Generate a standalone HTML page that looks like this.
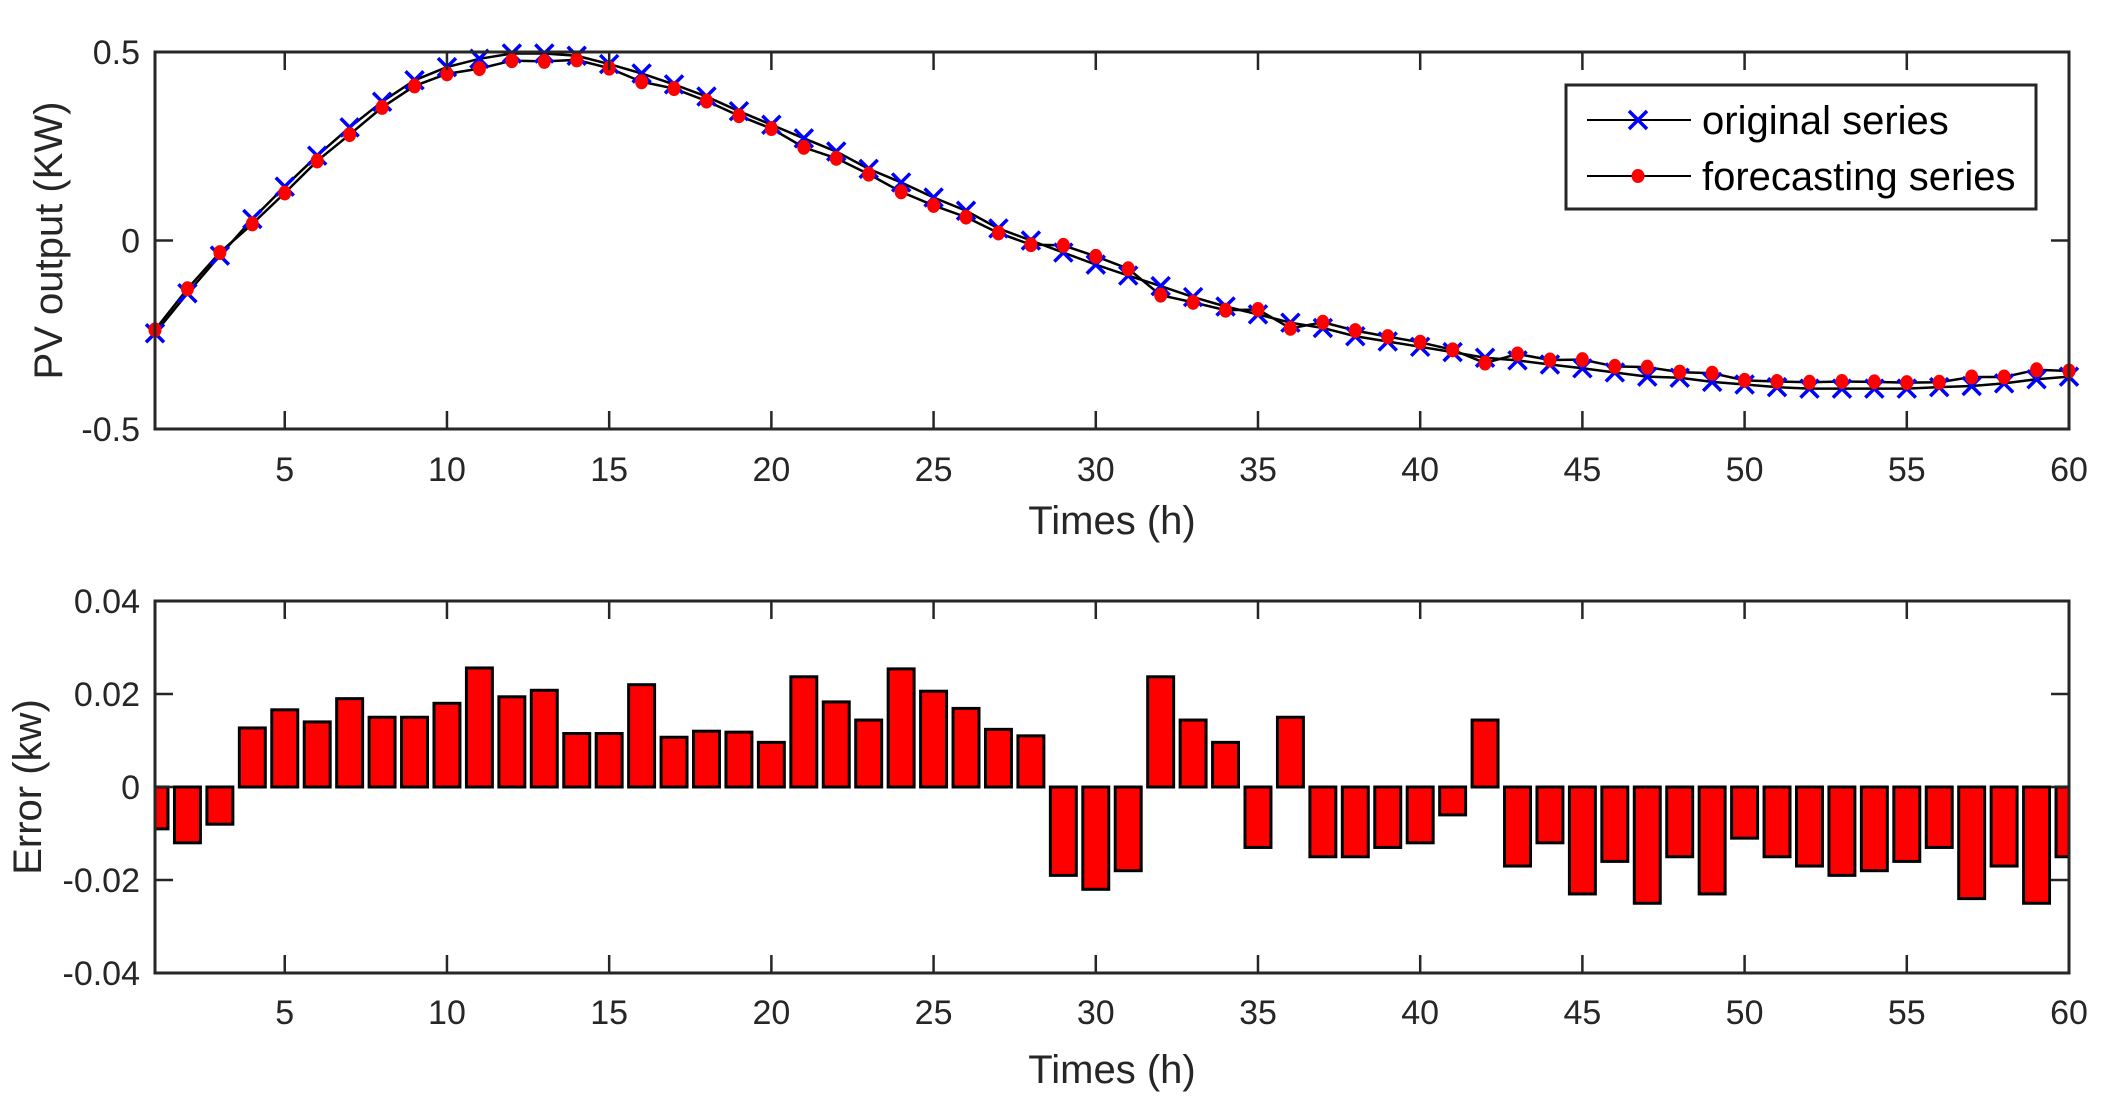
<!DOCTYPE html>
<html><head><meta charset="utf-8"><style>
html,body{margin:0;padding:0;background:#fff;}
svg{display:block;font-family:"Liberation Sans",Arial,sans-serif;}
</style></head><body>
<svg id="chart" width="2106" height="1104" viewBox="0 0 2106 1104" xmlns="http://www.w3.org/2000/svg">
<defs>
<clipPath id="clipTop"><rect x="155" y="52" width="1914" height="377"/></clipPath>
<clipPath id="clipBot"><rect x="155" y="601" width="1914" height="372"/></clipPath>
</defs>
<g id="topPanel"></g>
<g id="botPanel"></g>
</svg>
<script>
const hours = Array.from({length:60},(_,i)=>i+1);
const originalSeries = [-0.246,-0.14,-0.04,0.057,0.143,0.225,0.30,0.368,0.425,0.46,0.482,0.496,0.496,0.49,0.468,0.443,0.414,0.382,0.343,0.307,0.271,0.236,0.19,0.154,0.114,0.079,0.032,0.0,-0.032,-0.064,-0.093,-0.121,-0.15,-0.175,-0.196,-0.218,-0.232,-0.254,-0.268,-0.282,-0.296,-0.311,-0.318,-0.329,-0.339,-0.35,-0.361,-0.364,-0.375,-0.382,-0.389,-0.393,-0.393,-0.393,-0.393,-0.389,-0.386,-0.379,-0.368,-0.361];
const forecastSeries = [-0.237,-0.128,-0.032,0.044,0.126,0.211,0.281,0.353,0.41,0.442,0.456,0.477,0.475,0.479,0.457,0.421,0.403,0.37,0.331,0.297,0.247,0.218,0.176,0.129,0.093,0.062,0.02,-0.011,-0.013,-0.042,-0.075,-0.145,-0.164,-0.185,-0.183,-0.233,-0.217,-0.239,-0.255,-0.27,-0.29,-0.325,-0.301,-0.317,-0.316,-0.334,-0.336,-0.349,-0.352,-0.371,-0.374,-0.376,-0.374,-0.375,-0.377,-0.376,-0.362,-0.362,-0.343,-0.346];
const errorSeries = [-0.009,-0.012,-0.008,0.0127,0.0166,0.014,0.019,0.015,0.015,0.018,0.0256,0.0194,0.0208,0.0115,0.0115,0.022,0.0107,0.012,0.0118,0.0096,0.0237,0.0183,0.0144,0.0254,0.0206,0.0169,0.0124,0.011,-0.019,-0.022,-0.018,0.0237,0.0144,0.0096,-0.013,0.015,-0.015,-0.015,-0.013,-0.012,-0.006,0.0144,-0.017,-0.012,-0.023,-0.016,-0.025,-0.015,-0.023,-0.011,-0.015,-0.017,-0.019,-0.018,-0.016,-0.013,-0.024,-0.017,-0.025,-0.015];
const xTicks = [5,10,15,20,25,30,35,40,45,50,55,60];
const topYTicks = [-0.5,0,0.5];
const topYLabels = ["-0.5","0","0.5"];
const botYTicks = [-0.04,-0.02,0,0.02,0.04];
const botYLabels = ["-0.04","-0.02","0","0.02","0.04"];

const NS="http://www.w3.org/2000/svg";
const L=155,R=2069;
const xs=v=>L+(v-1)*(R-L)/59;
const yTop=v=>240.5-v*377;
const yBot=v=>787-v*(372/0.08);
function mk(tag,attrs,parent){const e=document.createElementNS(NS,tag);for(const k in attrs)e.setAttribute(k,attrs[k]);parent.appendChild(e);return e;}
const C="#262626";

function axes(g,T,B,ys,yticks,ylabels,ylab,ylabX,xlabY,titleY){
  const ax=mk('rect',{x:L,y:T,width:R-L,height:B-T,fill:'none',stroke:C,'stroke-width':3},g);
  
  
  xTicks.forEach(t=>{
    const x=xs(t);
    const a=mk('line',{x1:x,x2:x,y1:B,y2:B-18,stroke:C,'stroke-width':2.5},g);
    
    
    mk('line',{x1:x,x2:x,y1:T,y2:T+18,stroke:C,'stroke-width':2.5},g);
    const tx=mk('text',{x:x,y:xlabY,'font-size':34,'text-anchor':'middle',fill:C},g);
    tx.textContent=t;
    
    
  });
  yticks.forEach((t,i)=>{
    const y=ys(t);
    const a=mk('line',{x1:L,x2:L+18,y1:y,y2:y,stroke:C,'stroke-width':2.5},g);
    
    
    mk('line',{x1:R,x2:R-18,y1:y,y2:y,stroke:C,'stroke-width':2.5},g);
    const tx=mk('text',{x:140,y:y+12,'font-size':34,'text-anchor':'end',fill:C},g);
    tx.textContent=ylabels[i];
    
    
  });
  const xt=mk('text',{x:(L+R)/2,y:titleY,'font-size':40,'text-anchor':'middle',fill:C},g);
  xt.textContent='Times (h)';
  
  
  const cy=(T+B)/2;
  const yt=mk('text',{x:ylabX,y:cy,'font-size':40,'text-anchor':'middle',fill:C,transform:`rotate(-90 ${ylabX} ${cy})`},g);
  yt.textContent=ylab;
  
  
}

const topG=document.getElementById('topPanel');
const plotT=mk('g',{'clip-path':'url(#clipTop)'},topG);
function path(vals){return vals.map((v,i)=>(i?'L':'M')+xs(hours[i]).toFixed(2)+','+yTop(v).toFixed(2)).join(' ');}
const lo=mk('path',{d:path(originalSeries),fill:'none',stroke:'#000','stroke-width':2.5},plotT);


const lf=mk('path',{d:path(forecastSeries),fill:'none',stroke:'#000','stroke-width':2.5},plotT);


originalSeries.forEach((v,i)=>{
  const x=xs(hours[i]),y=yTop(v),s=9;
  const p=mk('path',{d:`M${x-s},${y-s}L${x+s},${y+s}M${x-s},${y+s}L${x+s},${y-s}`,stroke:'#0000ff','stroke-width':3.5,fill:'none'},topG);
  
  
});
forecastSeries.forEach((v,i)=>{
  const c=mk('ellipse',{cx:xs(hours[i]),cy:yTop(v),rx:6.5,ry:7.5,fill:'#ff0000'},topG);
  
  
});
axes(topG,52,429,yTop,topYTicks,topYLabels,'PV output (KW)',62,481,534);

const lg=mk('g',{},topG);


mk('rect',{x:1566,y:85,width:470,height:124,fill:'#fff',stroke:C,'stroke-width':3},lg);
mk('line',{x1:1587,x2:1691,y1:120,y2:120,stroke:'#000','stroke-width':2},lg);
mk('path',{d:'M1629,111L1647,129M1629,129L1647,111',stroke:'#0000ff','stroke-width':3.5},lg);
const t1=mk('text',{x:1702,y:134,'font-size':40,fill:'#000'},lg);t1.textContent='original series';


mk('line',{x1:1587,x2:1691,y1:176,y2:176,stroke:'#000','stroke-width':2},lg);
mk('ellipse',{cx:1638,cy:176,rx:6.5,ry:7,fill:'#ff0000'},lg);
const t2=mk('text',{x:1702,y:190,'font-size':40,fill:'#000'},lg);t2.textContent='forecasting series';



const botG=document.getElementById('botPanel');
const plotB=mk('g',{'clip-path':'url(#clipBot)'},botG);
const bw=0.8*(R-L)/59;
errorSeries.forEach((v,i)=>{
  const x=xs(hours[i])-bw/2,y0=yBot(0),y1=yBot(v);
  const r=mk('rect',{x:x,y:Math.min(y0,y1),width:bw,height:Math.abs(y1-y0),fill:'#ff0000',stroke:'#000','stroke-width':3},plotB);
  
  
});
axes(botG,601,973,yBot,botYTicks,botYLabels,'Error (kw)',41,1024,1083);
</script>
</body></html>
